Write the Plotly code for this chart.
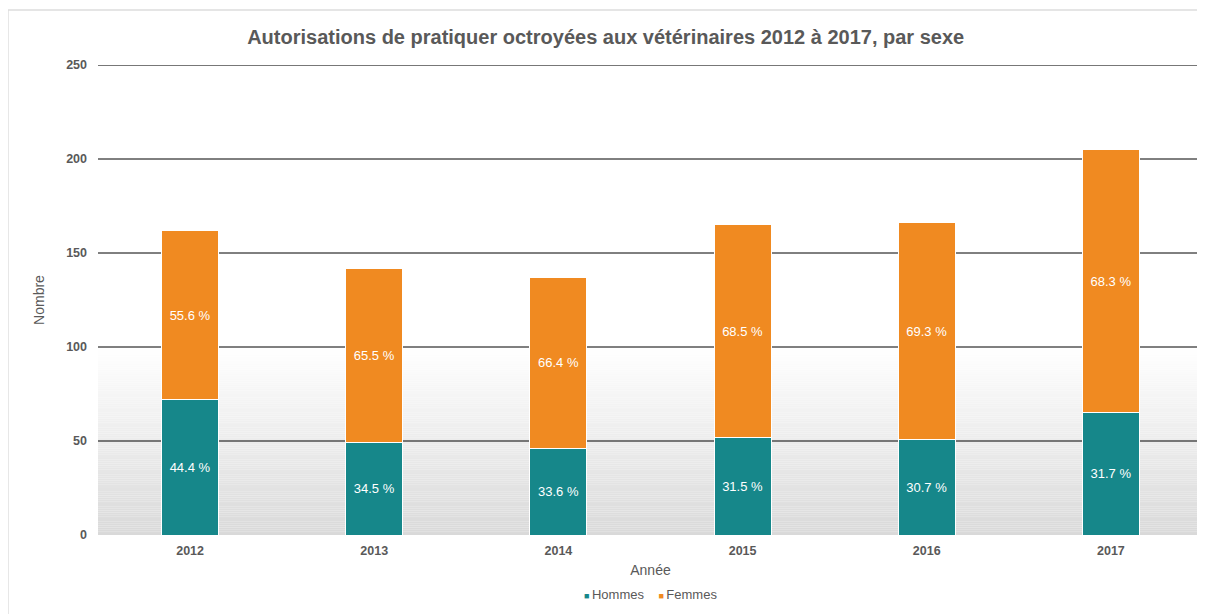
import plotly.graph_objects as go

years = ["2012", "2013", "2014", "2015", "2016", "2017"]
hommes = [72, 49, 46, 52, 51, 65]
femmes = [90, 93, 91, 113, 115, 140]
hommes_pct = ["44.4 %", "34.5 %", "33.6 %", "31.5 %", "30.7 %", "31.7 %"]
femmes_pct = ["55.6 %", "65.5 %", "66.4 %", "68.5 %", "69.3 %", "68.3 %"]
y_ticks = [0, 50, 100, 150, 200, 250]

TEAL = "#16878A"
ORANGE = "#F08A21"
GREY_TXT = "#595959"
FONT = "Liberation Sans, Arial, sans-serif"

fig = go.Figure()
fig.add_trace(go.Bar(
    x=years, y=hommes, name="Hommes", marker=dict(color=TEAL, line=dict(color="white", width=1)),
    text=hommes_pct, textposition="inside", insidetextanchor="middle",
    textfont=dict(color="white", size=13, family=FONT), width=0.31, showlegend=False,
))
fig.add_trace(go.Bar(
    x=years, y=femmes, name="Femmes", marker=dict(color=ORANGE, line=dict(color="white", width=1)),
    text=femmes_pct, textposition="inside", insidetextanchor="middle",
    textfont=dict(color="white", size=13, family=FONT), width=0.31, showlegend=False,
))

shapes = []
# gradient background from 0 to 100
n = 100
for i in range(n):
    y0 = 100 * i / n
    y1 = 100 * (i + 1) / n
    t = (i + 0.5) / n  # 0 at bottom, 1 at top
    v = int(round(217 + (255 - 217) * t))
    shapes.append(dict(type="rect", xref="paper", yref="y", x0=0, x1=1, y0=y0, y1=y1,
                       fillcolor=f"rgb({v},{v},{v})", line=dict(width=0), layer="below"))
for g in y_ticks[1:-1]:
    shapes.append(dict(type="line", xref="paper", yref="y", x0=0, x1=1, y0=g, y1=g,
                       line=dict(color="#000000", width=1), layer="below"))
shapes.append(dict(type="line", xref="paper", yref="y", x0=0, x1=1, y0=y_ticks[-1], y1=y_ticks[-1],
                   line=dict(color="#777777", width=2), layer="below"))
# outer frame
shapes.append(dict(type="line", xref="paper", yref="paper", x0=-0.0815, x1=-0.0815, y0=-0.2, y1=1.117,
                   line=dict(color="#dddddd", width=1.5)))
shapes.append(dict(type="line", xref="paper", yref="paper", x0=-0.0815, x1=1.01, y0=1.117, y1=1.117,
                   line=dict(color="#dddddd", width=1.5)))

legend_text = (f'<span style="color:{TEAL};font-size:9px">■ </span>Hommes'
               f'&nbsp;&nbsp;&nbsp;&nbsp;'
               f'<span style="color:{ORANGE};font-size:9px">■ </span>Femmes')

fig.update_layout(
    width=1205, height=614,
    margin=dict(l=90, r=10, t=57, b=87, autoexpand=False),
    barmode="stack",
    plot_bgcolor="white", paper_bgcolor="white",
    font=dict(family=FONT, color=GREY_TXT),
    title=dict(text="<b>Autorisations de pratiquer octroyées aux vétérinaires 2012 à 2017, par sexe</b>",
               x=0.496, xanchor="center", y=1 - 29 / 614, yanchor="middle", yref="container",
               font=dict(size=20, color=GREY_TXT, family=FONT)),
    xaxis=dict(title=dict(text="Année", font=dict(size=14, color=GREY_TXT), standoff=8),
               tickfont=dict(size=12.5, color=GREY_TXT, family=FONT, weight="bold"),
               showgrid=False, showline=False, ticks="", range=[-0.5, 5.5], automargin=False,
               ticklabelstandoff=6),
    yaxis=dict(title=dict(text="Nombre", font=dict(size=14, color=GREY_TXT), standoff=18),
               range=[0, 250], tickvals=y_ticks,
               tickfont=dict(size=12.5, color=GREY_TXT, family=FONT, weight="bold"),
               showgrid=False, zeroline=False, showline=False, ticks="", ticklabelstandoff=10,
               automargin=False),
    annotations=[dict(text=legend_text, xref="paper", yref="paper", x=0.5, y=(535 - 594) / 470,
                      xanchor="center", yanchor="middle", showarrow=False,
                      font=dict(size=13, color=GREY_TXT, family=FONT))],
    shapes=shapes,
)

fig.write_html("out.html")
